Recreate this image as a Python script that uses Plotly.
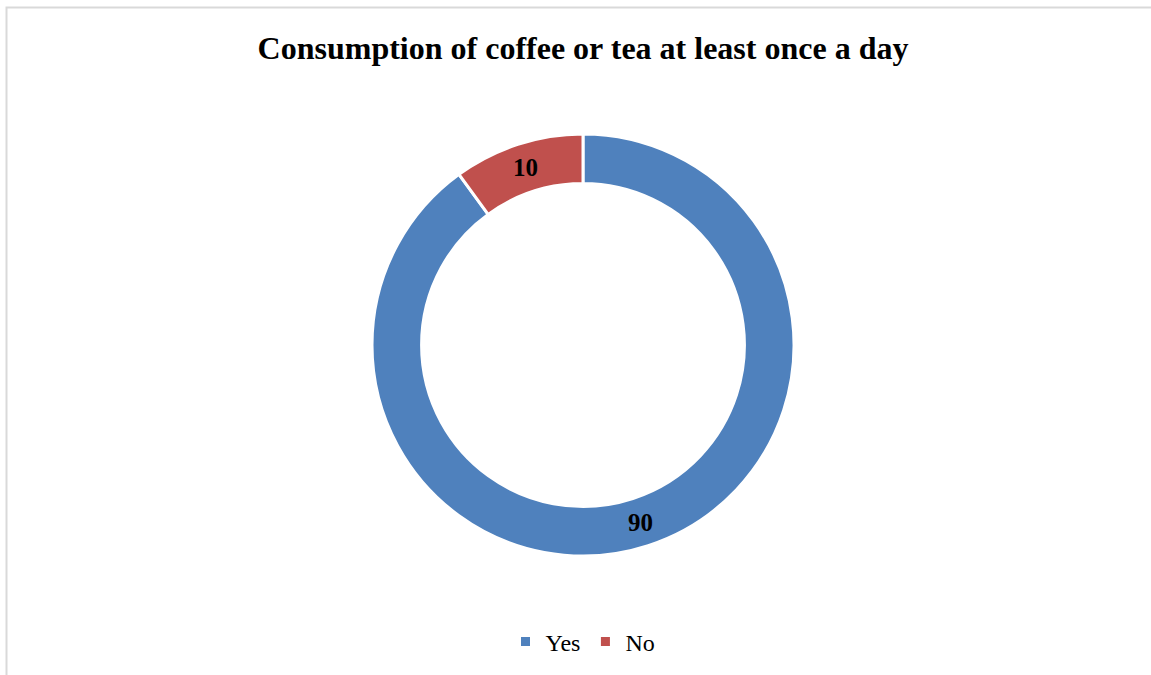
import plotly.graph_objects as go

# Daily coffee/tea consumption shares (percent)
labels = ["Yes", "No"]
values = [90, 10]
colors = ["#4F81BD", "#C0504D"]

W, H = 1151, 675

fig = go.Figure()
fig.add_trace(go.Pie(
    labels=labels,
    values=values,
    hole=0.765,
    sort=False,
    direction="clockwise",
    rotation=0,
    marker=dict(colors=colors, line=dict(color="white", width=3)),
    texttemplate="<b>%{value}</b>",
    textposition="inside",
    insidetextorientation="horizontal",
    textfont=dict(family="Liberation Serif", size=25, color="black"),
    domain=dict(x=[372 / W, 794 / W], y=[119 / H, 541 / H]),
    hoverinfo="label+value",
))

fig.update_layout(
    width=W,
    height=H,
    margin=dict(l=0, r=0, t=0, b=0),
    paper_bgcolor="white",
    plot_bgcolor="white",
    title=dict(
        text="<b>Consumption of coffee or tea at least once a day</b>",
        x=583 / W,
        xanchor="center",
        y=1 - 48 / H,
        yanchor="middle",
        font=dict(family="Liberation Serif", size=32, color="black"),
    ),
    showlegend=True,
    legend=dict(
        orientation="h",
        x=583 / W,
        xanchor="center",
        y=1 - 642 / H,
        yanchor="middle",
        font=dict(family="Liberation Serif", size=24, color="black"),
        itemwidth=30,
    ),
    shapes=[
        dict(
            type="rect",
            xref="paper",
            yref="paper",
            x0=6.5 / W,
            x1=1.1,
            y0=-0.1,
            y1=1 - 7.5 / H,
            line=dict(color="#d9d9d9", width=2),
            fillcolor="rgba(0,0,0,0)",
            layer="below",
        )
    ],
)

fig.write_html("out.html")
